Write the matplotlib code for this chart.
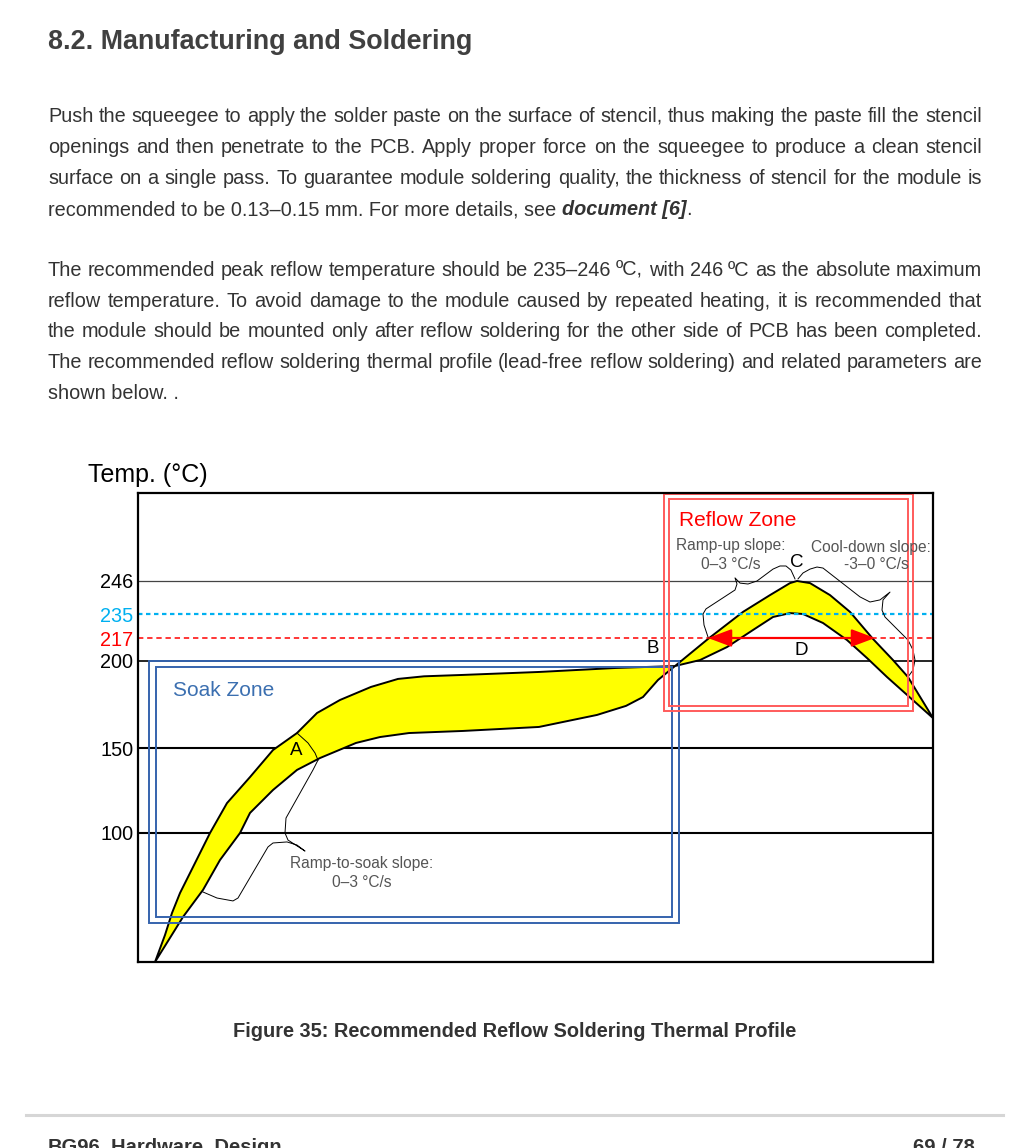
"""
Reflow soldering thermal profile page (BG96 hardware design, figure 35).

Redraws the document page: section heading, body paragraphs, the schematic
reflow profile chart, the caption and the page footer.
"""

import numpy as np
import matplotlib
matplotlib.use("Agg")
import matplotlib.pyplot as plt
from matplotlib.patches import Rectangle


W, H = 1020, 1148
TEXT_COLOR = "#333333"
FONT = "Liberation Sans"

# temperatures marked on the axis
tick_temps = [100, 150, 200, 217, 235, 246]
tick_labels = ["100", "150", "200", "217", "235", "246"]
tick_colors = ["black", "black", "black", "red", "#00b0f0", "black"]

# the chart is schematic: the temperature axis is not linear
axis_temps = [25, 100, 150, 200, 217, 235, 246, 280]
axis_height = [0, 129, 214, 301, 324, 348, 381, 469]

# soak band (time in arbitrary units, temperature in degC)
soak_upper_t = [17, 27, 34, 42, 55, 72, 89, 112, 135, 159, 179, 202, 233, 260, 286, 325,
                401, 478, 537]
soak_upper_temp = [25, 40.7, 53.5, 65.1, 80.2, 100, 117.6, 132.9, 148.8, 158.6, 170.1,
                   177.6, 185.1, 189.7, 191.2, 192, 193.7, 196, 197.1]
soak_lower_t = [17, 45, 65, 82, 102, 112, 135, 159, 182, 218, 242, 271, 325, 401, 459,
                488, 505, 520, 537]
soak_lower_temp = [25, 51.2, 66.9, 84.3, 100, 111.8, 125.3, 137.1, 144.1, 152.9, 156.3,
                   158.6, 159.8, 162.1, 169, 174.2, 179.3, 189.1, 197.1]

# reflow band
reflow_upper_t = [537, 570, 605, 632, 652, 659, 672, 692, 712, 735, 755, 770, 795]
reflow_upper_temp = [197.1, 216.3, 235.7, 241.3, 245.3, 246, 245.3, 241.3, 235.7, 216.3,
                     200.7, 190.8, 167.2]
reflow_lower_t = [537, 562, 589, 615, 635, 652, 665, 685, 709, 729, 749, 795]
reflow_lower_temp = [197.1, 200.7, 210.3, 223, 232.75, 235.3, 235, 228.25, 215.5, 202.2,
                     190.8, 167.2]

# curly braces pointing at the slope notes
soak_brace_t = [65, 79, 95, 100, 130, 135, 149, 159, 167, 150, 147, 148, 175, 180]
soak_brace_temp = [65.7, 62.2, 60.5, 62.2, 91.9, 94.2, 94.8, 93, 89.5, 95.9, 100, 108.8,
                   137.1, 142.9]
arc_a_t = [159, 170, 177, 180]
arc_a_temp = [158.6, 152.9, 147.1, 142.9]
rampup_brace_t = [570, 566, 565, 568, 597, 599, 597, 602, 610, 619, 635, 642, 648, 653, 657]
rampup_brace_temp = [217.75, 226.75, 235, 236.7, 243, 245, 247.2, 245.3, 245, 246, 250.6,
                     251.8, 251.8, 250.2, 246.8]
cooldown_brace_t = [660, 665, 672, 679, 685, 722, 732, 742, 752, 745, 744, 747, 770, 775,
                    777, 775, 770]
cooldown_brace_temp = [246.8, 249.1, 250.6, 251.4, 251, 240.7, 239, 239.7, 242.3, 239.7,
                       236.3, 232.75, 215.5, 208.1, 200.7, 194.8, 190.8]

# time above liquidus (D), at 217 degC
liquidus_t = [570, 737]
liquidus_temp = 217

# zones: (t start, t end, temp low, temp high)
soak_zone_outer = (11, 541, 47.7, 200)
soak_zone_inner = (18, 534, 51.2, 196.6)
reflow_zone_outer = (526, 775, 171.3, 279.6)
reflow_zone_inner = (531, 770, 174.1, 277.7)

heading = "8.2. Manufacturing and Soldering"
paragraph_1 = [
    "Push the squeegee to apply the solder paste on the surface of stencil, thus making the paste fill the stencil",
    "openings and then penetrate to the PCB. Apply proper force on the squeegee to produce a clean stencil",
    "surface on a single pass. To guarantee module soldering quality, the thickness of stencil for the module is",
]
paragraph_1_end = ["recommended to be 0.13\u20130.15 mm. For more details, see ", "document [6]", "."]
paragraph_2 = [
    "The recommended peak reflow temperature should be 235\u2013246 \u00baC, with 246 \u00baC as the absolute maximum",
    "reflow temperature. To avoid damage to the module caused by repeated heating, it is recommended that",
    "the module should be mounted only after reflow soldering for the other side of PCB has been completed.",
    "The recommended reflow soldering thermal profile (lead-free reflow soldering) and related parameters are",
]
paragraph_2_end = "shown below. ."
caption = "Figure 35: Recommended Reflow Soldering Thermal Profile"


def fig_xy(x, y):
    """Page pixel position to figure fraction."""
    return x / W, 1 - y / H


def put_text(fig, x, y, s, **kw):
    kw.setdefault("family", FONT)
    kw.setdefault("color", TEXT_COLOR)
    fx, fy = fig_xy(x, y)
    return fig.text(fx, fy, s, **kw)


def put_justified(fig, renderer, line, x0, x1, y, **kw):
    """Spread the words of one line between x0 and x1."""
    words = line.split(" ")
    texts = [put_text(fig, 0, y, w, va="baseline", **kw) for w in words]
    widths = [t.get_window_extent(renderer).width for t in texts]
    gap = (x1 - x0 - sum(widths)) / (len(words) - 1)
    x = x0
    for t, w in zip(texts, widths):
        t.set_x(x / W)
        x += w + gap


def draw_page_text(fig):
    renderer = fig.canvas.get_renderer()
    put_text(fig, 48, 49, heading, fontsize=19.4, weight="bold", color="#404040",
             va="baseline")

    body = dict(fontsize=14.3)
    left, right = 48, 982
    for i, line in enumerate(paragraph_1):
        put_justified(fig, renderer, line, left, right, 122 + 31 * i, **body)

    x = left
    styles = [dict(), dict(weight="bold", style="italic"), dict()]
    for piece, style in zip(paragraph_1_end, styles):
        t = put_text(fig, x, 215, piece, va="baseline", **body, **style)
        x += t.get_window_extent(renderer).width

    for i, line in enumerate(paragraph_2):
        put_justified(fig, renderer, line, left, right, 276 + 30.7 * i, **body)
    put_text(fig, left, 399, paragraph_2_end, va="baseline", **body)

    put_text(fig, 515, 1037, caption, fontsize=14.4, weight="bold", ha="center",
             va="baseline")

    # footer
    fig.add_artist(plt.Line2D([26 / W, 1003 / W], [1 - 1115 / H] * 2, color="#d6d6d6",
                              lw=2.2, transform=fig.transFigure))
    put_text(fig, 48, 1153, "BG96_Hardware_Design", fontsize=14.5, weight="bold",
             va="baseline")
    put_text(fig, 975, 1153, "69 / 78", fontsize=14.5, weight="bold", ha="right",
             va="baseline")


def add_box(ax, zone, color):
    t0, t1, lo, hi = zone
    ax.add_patch(Rectangle((t0, lo), t1 - t0, hi - lo, fill=False, edgecolor=color,
                           lw=1.4, zorder=4))


def draw_chart(fig):
    left, top, right, bottom = 138, 493, 933, 962
    ax = fig.add_axes([left / W, 1 - bottom / H, (right - left) / W, (bottom - top) / H])

    ax.set_yscale("function", functions=(lambda v: np.interp(v, axis_temps, axis_height),
                                         lambda v: np.interp(v, axis_height, axis_temps)))
    ax.set_xlim(0, 795)
    ax.set_ylim(axis_temps[0], axis_temps[-1])

    ax.set_xticks([])
    ax.set_yticks(tick_temps)
    ax.set_yticklabels(tick_labels, family=FONT, fontsize=14.3)
    for lbl, c in zip(ax.get_yticklabels(), tick_colors):
        lbl.set_color(c)
    ax.tick_params(axis="y", length=0, pad=3.5)
    ax.yaxis.set_minor_locator(matplotlib.ticker.NullLocator())
    for spine in ax.spines.values():
        spine.set_linewidth(1.6)
        spine.set_zorder(6)

    # reference temperatures
    ax.axhline(246, color="#444444", lw=0.9, zorder=1)
    ax.axhline(200, color="black", lw=1.2, zorder=1)
    ax.axhline(150, color="black", lw=1.5, zorder=1)
    ax.axhline(100, color="black", lw=1.5, zorder=1)

    # process window bands
    ax.fill(soak_upper_t + soak_lower_t[::-1], soak_upper_temp + soak_lower_temp[::-1],
            facecolor="#ffff00", edgecolor="black", lw=1.4, zorder=2)
    ax.fill(reflow_upper_t + reflow_lower_t[::-1], reflow_upper_temp + reflow_lower_temp[::-1],
            facecolor="#ffff00", edgecolor="black", lw=1.4, zorder=2)

    ax.axhline(235, color="#00b0f0", lw=1.6, ls=(0, (2, 1.6)), zorder=3)
    ax.axhline(217, color="red", lw=1.1, ls=(0, (3.5, 2.5)), zorder=3)

    add_box(ax, soak_zone_outer, "#3563ad")
    add_box(ax, soak_zone_inner, "#3563ad")
    add_box(ax, reflow_zone_outer, "#ff5b5b")
    add_box(ax, reflow_zone_inner, "#ff5b5b")

    for bt, btemp in [(soak_brace_t, soak_brace_temp), (arc_a_t, arc_a_temp),
                      (rampup_brace_t, rampup_brace_temp),
                      (cooldown_brace_t, cooldown_brace_temp)]:
        ax.plot(bt, btemp, color="black", lw=0.7, zorder=3)

    ax.annotate("", xy=(liquidus_t[0], liquidus_temp), xytext=(liquidus_t[1], liquidus_temp),
                arrowprops=dict(arrowstyle="<|-|>,head_length=0.8,head_width=0.3",
                                color="red", lw=1.6, mutation_scale=18,
                                shrinkA=0, shrinkB=0),
                zorder=5)

    txt = dict(family=FONT, zorder=7)
    ax.text(35, 183.3, "Soak Zone", color="#3b6fb0", fontsize=15, va="center", **txt)
    ax.text(541, 269.2, "Reflow Zone", color="red", fontsize=15, va="center", **txt)
    note = dict(color="#555555", fontsize=11.2, ha="center", va="center", **txt)
    ax.text(593, 259.9, "Ramp-up slope:", **note)
    ax.text(593, 252.5, "0\u20133 \u00b0C/s", **note)
    ax.text(733, 259.1, "Cool-down slope:", **note)
    ax.text(738, 252.5, "-3\u20130 \u00b0C/s", **note)
    ax.text(224, 82, "Ramp-to-soak slope:", **note)
    ax.text(224, 71, "0\u20133 \u00b0C/s", **note)
    letter = dict(color="black", fontsize=13.5, ha="center", va="center", **txt)
    ax.text(158, 148.8, "A", **letter)
    ax.text(515, 208.9, "B", **letter)
    ax.text(659, 253.3, "C", **letter)
    ax.text(663, 207.4, "D", **letter)

    fx, fy = fig_xy(88, 475)
    fig.text(fx, fy, "Temp. (\u00b0C)", family=FONT, fontsize=18, color="black",
             va="center")


def main():
    fig = plt.figure(figsize=(W / 100, H / 100), dpi=100)
    draw_page_text(fig)
    draw_chart(fig)
    fig.savefig("out.png", dpi=100)
    plt.close(fig)


if __name__ == "__main__":
    main()
